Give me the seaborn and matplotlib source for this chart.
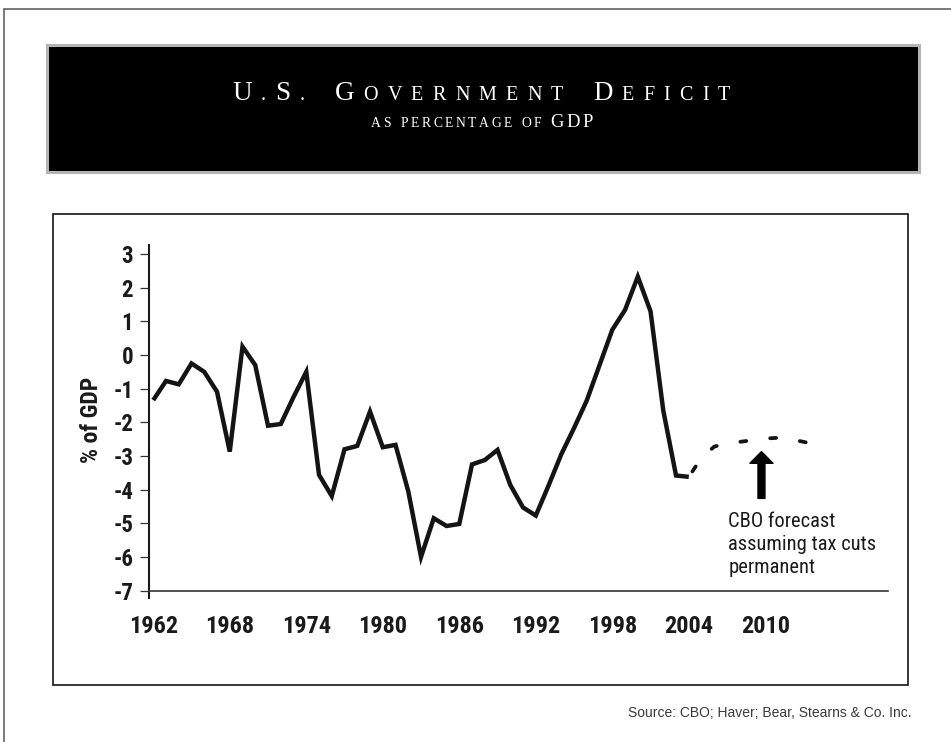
import matplotlib
matplotlib.use("Agg")
import matplotlib.pyplot as plt
import seaborn as sns
from matplotlib.patches import Rectangle, FancyArrowPatch
from matplotlib import font_manager

# ---- data -----------------------------------------------------------------
years_hist = [1962, 1963, 1964, 1965, 1966, 1967, 1968, 1969, 1970, 1971,
              1972, 1973, 1974, 1975, 1976, 1977, 1978, 1979, 1980, 1981,
              1982, 1983, 1984, 1985, 1986, 1987, 1988, 1989, 1990, 1991,
              1992, 1993, 1994, 1995, 1996, 1997, 1998, 1999, 2000, 2001,
              2002, 2003, 2004]
deficit_hist = [-1.34, -0.77, -0.87, -0.25, -0.50, -1.09, -2.87, 0.25, -0.30, -2.10,
                -2.05, -1.25, -0.50, -3.56, -4.19, -2.80, -2.70, -1.68, -2.74, -2.67,
                -4.05, -6.00, -4.85, -5.08, -5.02, -3.25, -3.12, -2.82, -3.86, -4.53,
                -4.77, -3.88, -2.95, -2.17, -1.35, -0.30, 0.75, 1.34, 2.33, 1.30,
                -1.65, -3.58, -3.62]

years_fcst = [2004, 2005, 2006, 2007, 2008, 2009, 2010, 2011, 2012, 2013, 2014]
deficit_fcst = [-3.62, -3.05, -2.72, -2.63, -2.58, -2.53, -2.48, -2.46, -2.50, -2.58, -2.66]

x_ticks = [1962, 1968, 1974, 1980, 1986, 1992, 1998, 2004, 2010]
y_ticks = [3, 2, 1, 0, -1, -2, -3, -4, -5, -6, -7]
y_tick_labels = ["3", "2", "1", "0", "-1", "-2", "-3", "-4", "-5", "-6", "-7"]

arrow_year = 2009.7
arrow_tail, arrow_tip = -4.26, -2.87
note_text = "CBO forecast\nassuming tax cuts\npermanent"

# ---- fonts ----------------------------------------------------------------
installed = {f.name for f in font_manager.fontManager.ttflist}


def first_installed(names, default):
    for n in names:
        if n in installed:
            return n
    return default


NARROW = first_installed(["Liberation Sans Narrow", "Roboto Condensed",
                          "Open Sans Condensed", "Roboto"], "DejaVu Sans")
SANS = first_installed(["Liberation Sans"], "DejaVu Sans")
SERIF = first_installed(["Liberation Serif"], "DejaVu Serif")
is_narrow = NARROW in ("Liberation Sans Narrow", "Roboto Condensed", "Open Sans Condensed")

sns.set_theme(style="white")
plt.rcParams["font.family"] = [NARROW, "DejaVu Sans"]

W, H = 951, 742
fig = plt.figure(figsize=(W / 100, H / 100), dpi=100)
fig.patch.set_facecolor("white")


def fx(px):
    return px / W


def fy(py):
    return 1 - py / H


# ---- page furniture -------------------------------------------------------
fig.add_artist(Rectangle((fx(3.5), fy(900)), 2.0, (900 - 9) / H,
                         transform=fig.transFigure, fill=False,
                         ec="#555555", lw=1.1))
fig.add_artist(Rectangle((fx(47), fy(172)), (919 - 47) / W, (172 - 45) / H,
                         transform=fig.transFigure, fc="black",
                         ec="#b4b4b4", lw=2.2))
fig.add_artist(Rectangle((fx(53), fy(685)), (908 - 53) / W, (685 - 214) / H,
                         transform=fig.transFigure, fill=False,
                         ec="#151515", lw=1.2))


def tracked_text(pieces, x_left, x_right, baseline, space_px, family, color):
    """Lay out characters one by one so the string fills [x_left, x_right]."""
    renderer = fig.canvas.get_renderer()
    arts = []
    for ch, size in pieces:
        if ch == " ":
            arts.append(None)
            continue
        arts.append(fig.text(0, fy(baseline), ch, fontsize=size, family=family,
                             color=color, ha="left", va="baseline"))
    widths = [a.get_window_extent(renderer).width if a is not None else 0.0
              for a in arts]
    n_space = sum(a is None for a in arts)
    track = (x_right - x_left - sum(widths) - n_space * space_px) / (len(arts) - 1)
    x = x_left
    for a, w in zip(arts, widths):
        if a is None:
            x += space_px + track
            continue
        a.set_x(fx(x))
        x += w + track


BIG, SMALL = 19.5, 14.5
title = ([("U", BIG), (".", SMALL), ("S", BIG), (".", SMALL), (" ", None), ("G", BIG)]
         + [(c, SMALL) for c in "OVERNMENT"]
         + [(" ", None), ("D", BIG)]
         + [(c, SMALL) for c in "EFICIT"])
tracked_text(title, 232, 730, 100, 12, SERIF, "white")

SUB_BIG, SUB_SMALL = 13.4, 9.8
subtitle = ([(c, SUB_SMALL) if c != " " else (" ", None) for c in "AS PERCENTAGE OF"]
            + [(" ", None)] + [(c, SUB_BIG) for c in "GDP"])
tracked_text(subtitle, 370.7, 593.3, 127.3, 4, SERIF, "white")

fig.text(fx(912), fy(716.7), "Source: CBO; Haver; Bear, Stearns & Co. Inc.",
         ha="right", va="baseline", fontsize=10, family=SANS, color="#3a3a3a")

# ---- chart ----------------------------------------------------------------
ax = fig.add_axes([fx(149.3), fy(598), (887.7 - 149.3) / W, (598 - 245) / H])
ax.set_facecolor("none")

sns.lineplot(x=years_hist, y=deficit_hist, ax=ax, color="#141414", lw=3.2,
             solid_joinstyle="miter", solid_capstyle="butt")
sns.lineplot(x=years_fcst, y=deficit_fcst, ax=ax, color="#141414", lw=2.7,
             linestyle=(6.27, (1.6, 6.4)), dash_capstyle="round")

ax.set_xlim(1961.69, 2019.6)
ax.set_ylim(-7.22, 3.27)
ax.set_xticks(x_ticks)
ax.set_xticklabels([str(v) for v in x_ticks])
ax.set_yticks(y_ticks)
ax.set_yticklabels(y_tick_labels)

for side in ("top", "right"):
    ax.spines[side].set_visible(False)
ax.spines["left"].set_linewidth(1.5)
ax.spines["left"].set_color("#1a1a1a")
ax.spines["bottom"].set_position(("data", -7))
ax.spines["bottom"].set_linewidth(1.2)
ax.spines["bottom"].set_color("#333333")

tick_x_size = 17.5 if is_narrow else 16
tick_y_size = 16.5 if is_narrow else 15.5
ax.tick_params(axis="y", left=True, length=6.8, width=0.9, pad=4.8,
               direction="out", color="#333333")
ax.tick_params(axis="x", bottom=False, length=0, pad=17.5)
for lab in ax.get_yticklabels():
    lab.set_fontsize(tick_y_size)
    lab.set_fontweight("bold")
    lab.set_color("#1a1a1a")
for lab in ax.get_xticklabels():
    lab.set_fontsize(tick_x_size)
    lab.set_fontweight("bold")
    lab.set_color("#1a1a1a")

ax.set_xlabel("")
ax.set_ylabel("")
ax.text((91 - 149.3) / (887.7 - 149.3), (598 - 420) / (598 - 245), "% of GDP",
        transform=ax.transAxes, rotation=90, ha="center", va="center",
        fontsize=17 if is_narrow else 16, fontweight="bold", color="#1a1a1a")

ax.add_patch(FancyArrowPatch((arrow_year, arrow_tail), (arrow_year, arrow_tip),
                             arrowstyle="simple,head_length=8.4,head_width=16.6,tail_width=5",
                             mutation_scale=1, color="black", shrinkA=0, shrinkB=0))
ax.text(2007.1, -4.65, note_text, ha="left", va="top",
        fontsize=14.8 if is_narrow else 13.5, linespacing=1.28, color="#1a1a1a")

fig.savefig("out.png", dpi=100)
